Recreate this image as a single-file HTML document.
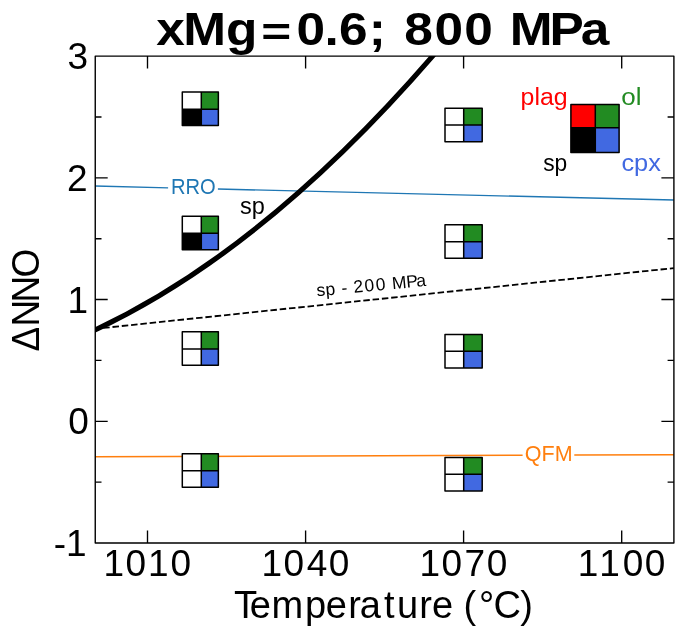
<!DOCTYPE html>
<html>
<head>
<meta charset="utf-8">
<style>
html,body{margin:0;padding:0;background:#fff;width:685px;height:637px;overflow:hidden;}
svg{display:block;will-change:transform;}
text{font-family:"Liberation Sans",sans-serif;}
</style>
</head>
<body>
<svg width="685" height="637" viewBox="0 0 685 637">
<defs>
<clipPath id="ax"><rect x="95.2" y="56.1" width="578.7" height="486.9"/></clipPath>
</defs>
<rect x="0" y="0" width="685" height="637" fill="#fff"/>

<!-- title -->
<g font-size="46.7" font-weight="bold" fill="#000"><text transform="translate(0,45.1) scale(1.1,1)" x="142.09 166.64 205.53" y="0">xMg</text><text transform="translate(261.18,45.1) scale(1.1,0.85)" x="0" y="0">=</text><text transform="translate(0,45.1) scale(1.1,1)" x="269.46 295.05 308.23 335.15 349.15 367.59 395.10 422.14 448.14 463.37 499.47 527.88" y="0">0.6; 800 MPa</text></g>

<g clip-path="url(#ax)">
  <!-- RRO line -->
  <path d="M95.2,186.07 L168.1,187.83 M217.9,189.04 L673.9,200.06" stroke="#1f77b4" stroke-width="1.4" fill="none"/>
  <!-- QFM line -->
  <path d="M95.2,456.8 L522.6,455.25 M574.3,455.06 L673.9,454.7" stroke="#ff7f0e" stroke-width="1.4" fill="none"/>
  <!-- dashed sp 200 MPa -->
  <path d="M95.2,328.8 L673.9,268.1" stroke="#000" stroke-width="1.8" stroke-dasharray="6.5 2.84" stroke-dashoffset="1.29" fill="none"/>
  <!-- sp curve -->
  <path transform="translate(0.4,0)" d="M90.00,332.18 Q265.88,251.35 441.75,45.00" stroke="#000" stroke-width="5.1" fill="none"/>
</g>

<!-- markers -->
<g>
  <g>
    <rect x="182.3" y="92.05" width="19" height="17.2" fill="#fff"/><rect x="201.3" y="92.05" width="17.05" height="17.2" fill="#228b22"/>
    <rect x="182.3" y="109.25" width="19" height="16.3" fill="#000"/><rect x="201.3" y="109.25" width="17.05" height="16.3" fill="#4169e1"/>
    <rect x="182.3" y="92.05" width="36.05" height="33.5" fill="none" stroke="#000" stroke-width="1.5" stroke-linejoin="round"/>
    <path d="M201.3,92.05V125.55M182.3,109.25H218.35" stroke="#000" stroke-width="1.5"/>
  </g>
  <g>
    <rect x="182.3" y="216.15" width="19" height="17.2" fill="#fff"/><rect x="201.3" y="216.15" width="17.05" height="17.2" fill="#228b22"/>
    <rect x="182.3" y="233.35" width="19" height="16.3" fill="#000"/><rect x="201.3" y="233.35" width="17.05" height="16.3" fill="#4169e1"/>
    <rect x="182.3" y="216.15" width="36.05" height="33.5" fill="none" stroke="#000" stroke-width="1.5" stroke-linejoin="round"/>
    <path d="M201.3,216.15V249.65M182.3,233.35H218.35" stroke="#000" stroke-width="1.5"/>
  </g>
  <g>
    <rect x="182.3" y="331.85" width="19" height="17.2" fill="#fff"/><rect x="201.3" y="331.85" width="17.05" height="17.2" fill="#228b22"/>
    <rect x="182.3" y="349.05" width="19" height="16.3" fill="#fff"/><rect x="201.3" y="349.05" width="17.05" height="16.3" fill="#4169e1"/>
    <rect x="182.3" y="331.85" width="36.05" height="33.5" fill="none" stroke="#000" stroke-width="1.5" stroke-linejoin="round"/>
    <path d="M201.3,331.85V365.35M182.3,349.05H218.35" stroke="#000" stroke-width="1.5"/>
  </g>
  <g>
    <rect x="182.3" y="453.65" width="19" height="17.2" fill="#fff"/><rect x="201.3" y="453.65" width="17.05" height="17.2" fill="#228b22"/>
    <rect x="182.3" y="470.85" width="19" height="16.3" fill="#fff"/><rect x="201.3" y="470.85" width="17.05" height="16.3" fill="#4169e1"/>
    <rect x="182.3" y="453.65" width="36.05" height="33.5" fill="none" stroke="#000" stroke-width="1.5" stroke-linejoin="round"/>
    <path d="M201.3,453.65V487.15M182.3,470.85H218.35" stroke="#000" stroke-width="1.5"/>
  </g>
  <g>
    <rect x="445" y="108.15" width="18.7" height="16.85" fill="#fff"/><rect x="463.7" y="108.15" width="18.5" height="16.85" fill="#228b22"/>
    <rect x="445" y="125" width="18.7" height="16.65" fill="#fff"/><rect x="463.7" y="125" width="18.5" height="16.65" fill="#4169e1"/>
    <rect x="445" y="108.15" width="37.2" height="33.5" fill="none" stroke="#000" stroke-width="1.5" stroke-linejoin="round"/>
    <path d="M463.7,108.15V141.65M445,125H482.2" stroke="#000" stroke-width="1.5"/>
  </g>
  <g>
    <rect x="445" y="224.85" width="18.7" height="16.85" fill="#fff"/><rect x="463.7" y="224.85" width="18.5" height="16.85" fill="#228b22"/>
    <rect x="445" y="241.7" width="18.7" height="16.65" fill="#fff"/><rect x="463.7" y="241.7" width="18.5" height="16.65" fill="#4169e1"/>
    <rect x="445" y="224.85" width="37.2" height="33.5" fill="none" stroke="#000" stroke-width="1.5" stroke-linejoin="round"/>
    <path d="M463.7,224.85V258.35M445,241.7H482.2" stroke="#000" stroke-width="1.5"/>
  </g>
  <g>
    <rect x="445" y="334.45" width="18.7" height="16.85" fill="#fff"/><rect x="463.7" y="334.45" width="18.5" height="16.85" fill="#228b22"/>
    <rect x="445" y="351.3" width="18.7" height="16.65" fill="#fff"/><rect x="463.7" y="351.3" width="18.5" height="16.65" fill="#4169e1"/>
    <rect x="445" y="334.45" width="37.2" height="33.5" fill="none" stroke="#000" stroke-width="1.5" stroke-linejoin="round"/>
    <path d="M463.7,334.45V367.95M445,351.3H482.2" stroke="#000" stroke-width="1.5"/>
  </g>
  <g>
    <rect x="445" y="457.45" width="18.7" height="16.85" fill="#fff"/><rect x="463.7" y="457.45" width="18.5" height="16.85" fill="#228b22"/>
    <rect x="445" y="474.3" width="18.7" height="16.65" fill="#fff"/><rect x="463.7" y="474.3" width="18.5" height="16.65" fill="#4169e1"/>
    <rect x="445" y="457.45" width="37.2" height="33.5" fill="none" stroke="#000" stroke-width="1.5" stroke-linejoin="round"/>
    <path d="M463.7,457.45V490.95M445,474.3H482.2" stroke="#000" stroke-width="1.5"/>
  </g>
  <g>
    <rect x="570.9" y="104.5" width="24.4" height="23.3" fill="#f00"/><rect x="595.3" y="104.5" width="23.8" height="23.3" fill="#228b22"/>
    <rect x="570.9" y="127.8" width="24.4" height="24.8" fill="#000"/><rect x="595.3" y="127.8" width="23.8" height="24.8" fill="#4169e1"/>
    <rect x="570.9" y="104.5" width="48.2" height="48.1" fill="none" stroke="#000" stroke-width="1.5" stroke-linejoin="round"/>
    <path d="M595.3,104.5V152.6M570.9,127.8H619.1" stroke="#000" stroke-width="1.5"/>
  </g>
</g>

<!-- axes frame -->
<rect x="95.25" y="56.1" width="578.65" height="486.9" fill="none" stroke="#000" stroke-width="1.4" stroke-linejoin="round"/>
<!-- ticks -->
<g stroke="#000" stroke-width="1.35" fill="none">
  <path d="M147.5,543 v-12.5 M305.6,543 v-12.5 M463.6,543 v-12.5 M621.7,543 v-12.5"/>
  <path d="M147.5,56.1 v12.5 M305.6,56.1 v12.5 M463.6,56.1 v12.5 M621.7,56.1 v12.5"/>
  <path d="M95.2,177.8 h12.5 M95.2,299.5 h12.5 M95.2,421.3 h12.5"/>
  <path d="M95.2,117 h6.3 M95.2,238.7 h6.3 M95.2,360.4 h6.3 M95.2,482.1 h6.3"/>
  <path d="M673.9,177.8 h-12.5 M673.9,299.5 h-12.5 M673.9,421.3 h-12.5"/>
  <path d="M673.9,117 h-6.3 M673.9,238.7 h-6.3 M673.9,360.4 h-6.3 M673.9,482.1 h-6.3"/>
</g>

<!-- tick labels -->
<g font-size="37" fill="#000" text-anchor="end">
  <text x="88.2" y="68.9">3</text>
  <text x="87.5" y="190.6">2</text>
  <text x="88" y="312.7">1</text>
  <text x="88.8" y="433.8">0</text>
  <text x="86.6" y="555.8">-1</text>
</g>
<g font-size="37" fill="#000">
  <text x="103.45 125.50 147.95 170.55" y="576.4">1010</text>
  <text x="261.55 283.60 306.70 328.65" y="576.4">1040</text>
  <text x="419.55 441.60 464.55 486.65" y="576.4">1070</text>
  <text x="577.65 599.15 622.70 644.75" y="576.4">1100</text>
</g>

<!-- axis labels -->
<text x="234.00 249.85 271.45 304.95 325.80 348.30 359.80 384.10 397.05 419.15 431.90 455 463.55 478.90 493.50 520.30" y="618" font-size="38" fill="#000">Temperature (°C)</text>
<text transform="translate(39.3,0) rotate(-90) scale(0.95,1)" x="-369.94 -343.73 -318.36 -292.10" y="0" font-size="39" fill="#000">ΔNNO</text>

<!-- inline labels -->
<text transform="translate(193.4,193.7) scale(0.89,1)" font-size="22.6" text-anchor="middle" fill="#1f77b4">RRO</text>
<text transform="translate(548.7,460.7)" font-size="21.5" text-anchor="middle" fill="#ff7f0e">QFM</text>
<text transform="translate(240,214.1)" font-size="23.5" fill="#000">sp</text>
<text transform="translate(317,296.3) rotate(-5.4)" x="0.07 9.10 18 25.19 31 37.28 48.32 59.47 70 75.96 90.06 100.27" y="0" font-size="17.5" fill="#000">sp - 200 MPa</text>

<!-- legend labels -->
<text transform="translate(520.6,104.6) scale(1.075,1)" font-size="23.2" fill="#f00">plag</text>
<text transform="translate(621.2,105.2) scale(1.12,1)" font-size="23.2" fill="#228b22">ol</text>
<text transform="translate(543.2,170.8) scale(0.97,1)" font-size="23.5" fill="#000">sp</text>
<text transform="translate(621.4,170.8) scale(1.08,1)" font-size="23.5" fill="#4169e1">cpx</text>
</svg>
</body>
</html>
